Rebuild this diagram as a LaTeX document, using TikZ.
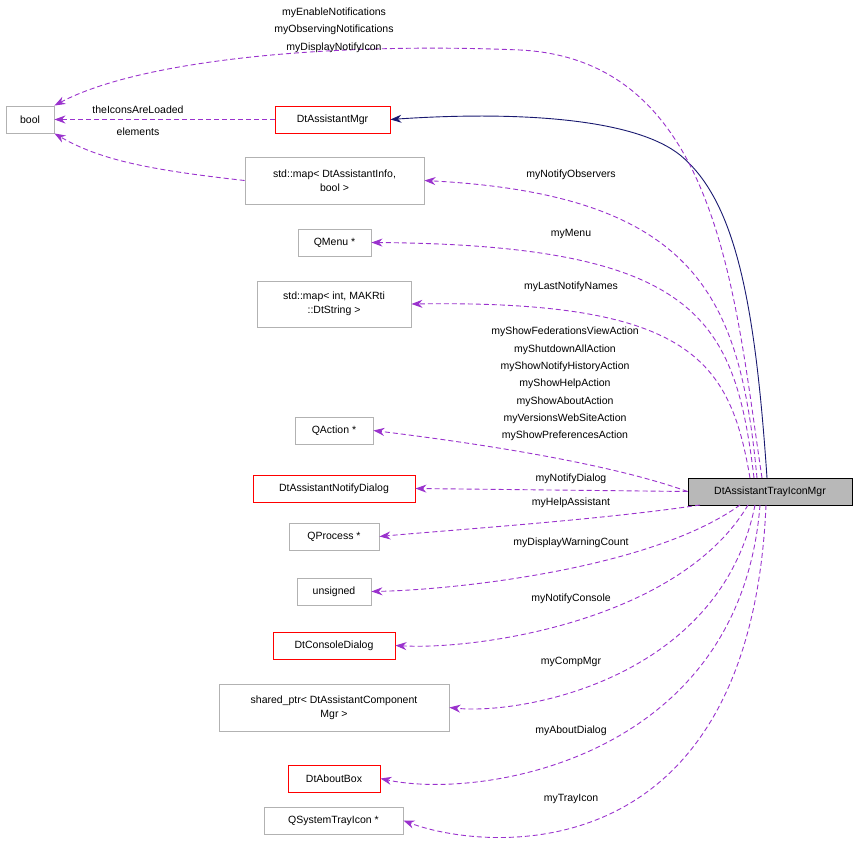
\documentclass[tikz,border=0pt]{standalone}
\usepackage{fontspec}
\setmainfont{Liberation Sans}
\usetikzlibrary{arrows.meta}
\definecolor{dpurp}{HTML}{9A32CD}
\definecolor{dnavy}{HTML}{191970}
\begin{document}
\begin{tikzpicture}[x=1pt,y=-1pt,line width=0.9pt,
  box/.style={draw=black!30,fill=white,minimum height=27pt,inner sep=3pt,align=center,font=\fontsize{10.5}{14}\selectfont},
  rbox/.style={box,draw=red},
  use/.style={draw=dpurp,dashed,dash pattern=on 5pt off 3pt,-{Stealth[length=11pt,width=8pt]}},
  inh/.style={draw=dnavy,-{Stealth[length=11pt,width=8pt]}},
  lbl/.style={font=\fontsize{10.5}{17.3}\selectfont,align=center,inner sep=0pt}]
\useasboundingbox (0,0) rectangle (859,858);
\node[box,minimum width=48pt] (bool) at (30,119.5) {bool};
\node[rbox,minimum width=115pt] (mgr) at (332.5,119.5) {DtAssistantMgr};
\node[box,minimum width=179pt,minimum height=47pt] (map1) at (334.5,180.5) {std::map\textless{} DtAssistantInfo,\\bool \textgreater};
\node[box,minimum width=73pt] (menu) at (334.5,242.5) {QMenu *};
\node[box,minimum width=154pt,minimum height=46pt] (map2) at (334,304) {std::map\textless{} int, MAKRti\\::DtString \textgreater};
\node[box,minimum width=78pt] (act) at (334,430.5) {QAction *};
\node[rbox,minimum width=162pt] (nd) at (334,488.5) {DtAssistantNotifyDialog};
\node[box,minimum width=90pt] (proc) at (334,536.5) {QProcess *};
\node[box,minimum width=74pt] (uns) at (334,591.5) {unsigned};
\node[rbox,minimum width=122pt] (cons) at (334,645.5) {DtConsoleDialog};
\node[box,minimum width=230pt,minimum height=47pt] (sp) at (334,707.5) {shared\_ptr\textless{} DtAssistantComponent\\Mgr \textgreater};
\node[rbox,minimum width=92pt] (about) at (334,778.5) {DtAboutBox};
\node[box,minimum width=139pt] (tray) at (333.5,820.5) {QSystemTrayIcon *};
\node[box,draw=black,fill=black!28,minimum width=164pt] (main) at (770,491.5) {DtAssistantTrayIconMgr};
\draw[inh] (767,478) .. controls (755,300) and (735,200) .. (680,155) .. controls (630,115) and (500,112) .. (mgr.east);
\draw[use] (762,478) .. controls (735,300) and (720,60) .. (520,50) .. controls (330,42) and (140,60) .. (bool.north east);
\draw[use] (mgr.west) -- (bool.east);
\draw[use] (map1.west) .. controls (150,170) and (100,160) .. (bool.south east);
\draw[use] (757,478) .. controls (740,300) and (700,195) .. (map1.east);
\draw[use] (754,478) .. controls (735,320) and (700,245) .. (menu.east);
\draw[use] (750,478) .. controls (730,360) and (690,300) .. (map2.east);
\draw[use] (main.west) .. controls (600,460) and (450,440) .. (act.east);
\draw[use] (main.west) -- (nd.east);
\draw[use] (700,505) .. controls (600,520) and (450,530) .. (proc.east);
\draw[use] (740,505) .. controls (650,570) and (450,590) .. (uns.east);
\draw[use] (748,505) .. controls (680,620) and (480,650) .. (cons.east);
\draw[use] (755,505) .. controls (720,680) and (520,715) .. (sp.east);
\draw[use] (760,505) .. controls (740,760) and (480,800) .. (about.east);
\draw[use] (766,505) .. controls (750,880) and (480,850) .. (tray.east);
\node[lbl] (l1) at (334,30) {myEnableNotifications\\myObservingNotifications\\myDisplayNotifyIcon};
\node[lbl] (l2) at (138,110) {theIconsAreLoaded};
\node[lbl] (l3) at (138,132) {elements};
\node[lbl] (l4) at (571,175) {myNotifyObservers};
\node[lbl] (l5) at (571,234) {myMenu};
\node[lbl] (l6) at (571,287) {myLastNotifyNames};
\node[lbl] (l7) at (565,384) {myShowFederationsViewAction\\myShutdownAllAction\\myShowNotifyHistoryAction\\myShowHelpAction\\myShowAboutAction\\myVersionsWebSiteAction\\myShowPreferencesAction};
\node[lbl] (l8) at (571,479) {myNotifyDialog};
\node[lbl] (l9) at (571,503) {myHelpAssistant};
\node[lbl] (l10) at (571,543) {myDisplayWarningCount};
\node[lbl] (l11) at (571,599) {myNotifyConsole};
\node[lbl] (l12) at (571,662) {myCompMgr};
\node[lbl] (l13) at (571,731) {myAboutDialog};
\node[lbl] (l14) at (571,799) {myTrayIcon};
\end{tikzpicture}
\end{document}
